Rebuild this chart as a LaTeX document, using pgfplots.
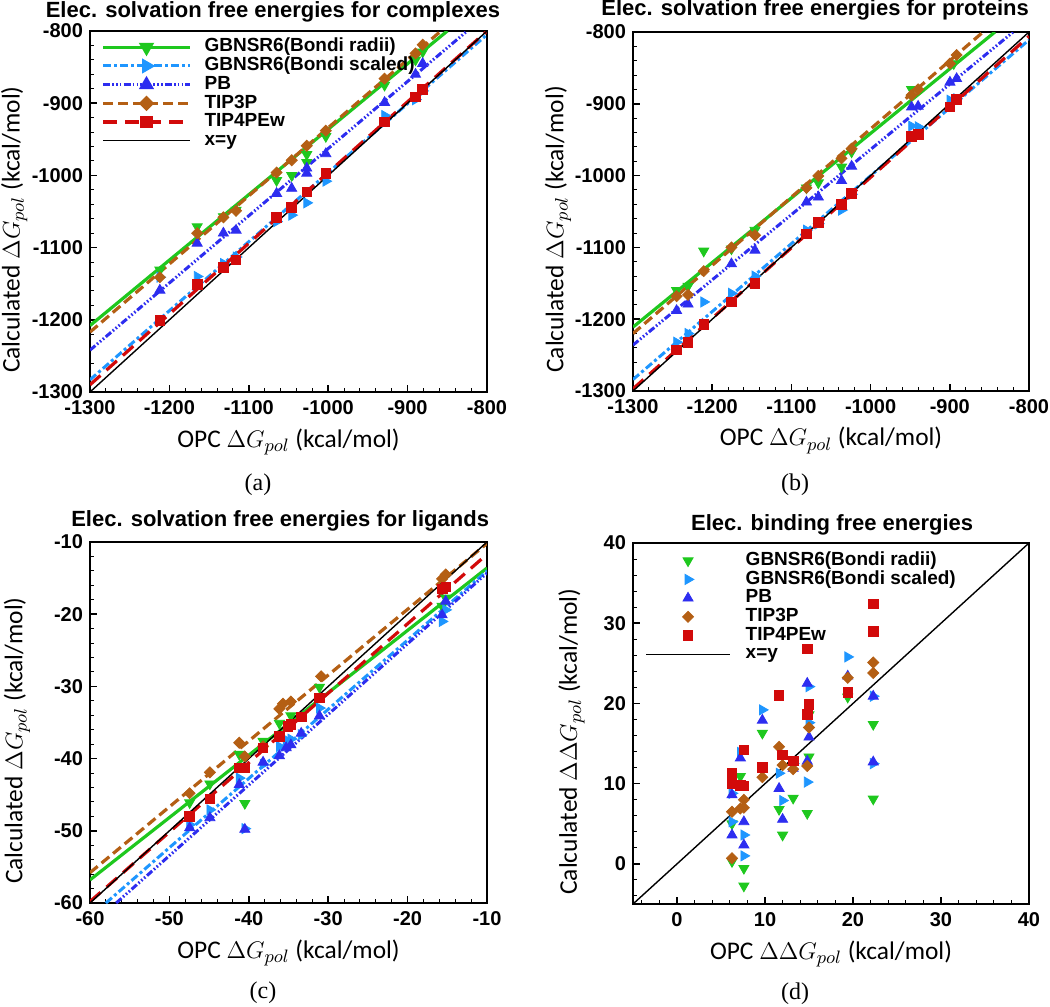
\documentclass[border=0pt]{standalone}
\usepackage{pgfplots}
\pgfplotsset{compat=1.18}
\usepackage{fontspec}
\setmainfont{Liberation Sans}
\newfontfamily\carlito{Carlito}
\newfontfamily\timesf{Liberation Serif}
\definecolor{cgr}{RGB}{30,200,30}
\definecolor{clb}{RGB}{30,150,255}
\definecolor{cpb}{RGB}{45,45,240}
\definecolor{cbr}{RGB}{180,95,20}
\definecolor{crd}{RGB}{210,10,10}
\pgfplotsset{
  every axis title/.style={at={(0.5,1)}, anchor=south, font=\bfseries\fontsize{11}{13}\selectfont, inner sep=1.5pt},
  panel/.style={scale only axis, axis line style={line width=1pt},
    tick align=inside, xtick pos=left, ytick pos=left, minor tick num=4,
    major tick length=3.5pt, minor tick length=1.8pt,
    every tick/.style={black, line width=0.8pt},
    every minor tick/.style={black, line width=0.5pt},
    ticklabel style={font=\bfseries\fontsize{10}{12}\selectfont},
    xticklabel style={yshift=-0.8pt},
    /pgf/number format/assume math mode=true, /pgf/number format/1000 sep={},
    label style={font=\carlito\fontsize{12.7}{15}\selectfont, inner sep=0pt},
    legend cell align=left},
  lGR/.style={cgr, line width=1.6pt},
  lLB/.style={clb, line width=1.5pt, dash pattern=on 4pt off 1.5pt on 1.5pt off 1.5pt},
  lPB/.style={cpb, line width=1.5pt, dash pattern=on 3.5pt off 1.1pt on 0.8pt off 1.1pt on 0.8pt off 1.1pt on 0.8pt off 1.1pt},
  lBR/.style={cbr, line width=1.6pt, dash pattern=on 5pt off 2.5pt},
  lRD/.style={crd, line width=1.6pt, dash pattern=on 7pt off 4pt},
  lXY/.style={black, line width=0.7pt},
  mGR/.style={cgr, mark=triangle*, mark size=2.9pt, mark options={rotate=180, solid, fill=cgr}},
  mLB/.style={clb, mark=triangle*, mark size=2.9pt, mark options={rotate=-90, solid, fill=clb}},
  mPB/.style={cpb, mark=triangle*, mark size=2.9pt, mark options={solid, fill=cpb}},
  mBR/.style={cbr, mark=square*, mark size=1.95pt, mark options={rotate=45, solid, fill=cbr}},
  mRD/.style={crd, mark=square*, mark size=2.4pt, mark options={solid, fill=crd}},
}
\begin{document}
\begin{tikzpicture}
\path[use as bounding box] (0,0) rectangle (525pt,-503.5pt);
% ---------------- (a)
\begin{axis}[panel, at={(45pt,-196pt)}, anchor=south west, width=198.5pt, height=180.5pt,
  xmin=-1300, xmax=-800, ymin=-1300, ymax=-800,
  xtick={-1300,-1200,...,-800}, ytick={-1300,-1200,...,-800},
  title={Elec. solvation free energies for complexes},
  title style={at={(0.461,1)}, yshift=2.7pt},
  xlabel={OPC $\Delta G_{pol}$ (kcal/mol)}, ylabel={Calculated $\Delta G_{pol}$ (kcal/mol)},
  xlabel style={at={(axis description cs:0.5,-0.1)}, anchor=north},
  ylabel style={at={(axis description cs:-0.157,0.45)}, anchor=south},
  legend style={at={(axis description cs:0.0126,0.993)}, anchor=north west, draw=none, fill=none,
    font=\bfseries\fontsize{9.5}{11}\selectfont, row sep=0pt,
    nodes={inner sep=0pt, text height=7pt, text depth=2.35pt},
    /tikz/every odd column/.append style={column sep=6.5pt}},
  legend image code/.code={\draw[mark repeat=2,mark phase=2,#1] plot coordinates {(0pt,0pt) (21.75pt,0pt) (43.5pt,0pt)};},
]
\addlegendimage{lGR, mGR}\addlegendentry{GBNSR6(Bondi radii)}
\addlegendimage{lLB, mLB}\addlegendentry{GBNSR6(Bondi scaled)}
\addlegendimage{lPB, mPB}\addlegendentry{PB}
\addlegendimage{lBR, mBR}\addlegendentry{TIP3P}
\addlegendimage{lRD, mRD}\addlegendentry{TIP4PEw}
\addlegendimage{lXY, no marks}\addlegendentry{x=y}
\addplot[lGR, no marks, forget plot] coordinates {(-1300,-1208) (-850,-800)};
\addplot[lLB, no marks, forget plot] coordinates {(-1300,-1283) (-800,-805)};
\addplot[lPB, no marks, forget plot] coordinates {(-1300,-1242) (-825,-800)};
\addplot[lBR, no marks, forget plot] coordinates {(-1300,-1217) (-858,-800)};
\addplot[lRD, no marks, forget plot] coordinates {(-1300,-1290) (-800,-800)};
\addplot[lXY, no marks, forget plot] coordinates {(-1300,-1300) (-800,-800)};
\addplot[mGR, only marks, forget plot] coordinates {(-1212,-1131) (-1165,-1071) (-1132,-1057) (-1116,-1048) (-1065,-1007) (-1046,-1000) (-1027,-971) (-1027,-982) (-1003,-946) (-929,-875) (-890,-840) (-881,-829)};
\addplot[mLB, only marks, forget plot] coordinates {(-1212,-1141) (-1165,-1140) (-1132,-1122) (-1116,-1113) (-1065,-1064) (-1046,-1055) (-1027,-1038) (-1003,-1008) (-929,-917) (-890,-895) (-881,-883)};
\addplot[mPB, only marks, forget plot] coordinates {(-1212,-1159) (-1165,-1094) (-1132,-1080) (-1116,-1076) (-1065,-1025) (-1046,-1018) (-1027,-997) (-1027,-990) (-1003,-970) (-929,-899) (-890,-860) (-881,-845)};
\addplot[mBR, only marks, forget plot] coordinates {(-1212,-1141) (-1165,-1080) (-1132,-1058) (-1116,-1049) (-1065,-996) (-1046,-979) (-1027,-959) (-1003,-938) (-929,-866) (-890,-831) (-881,-819)};
\addplot[mRD, only marks, forget plot] coordinates {(-1212,-1201) (-1165,-1151) (-1132,-1127) (-1116,-1117) (-1065,-1058) (-1046,-1044) (-1027,-1023) (-1003,-997) (-929,-926) (-890,-891) (-881,-881)};
\end{axis}
% ---------------- (b)
\begin{axis}[panel, at={(316.5pt,-195.5pt)}, anchor=south west, width=198pt, height=179.5pt,
  xmin=-1300, xmax=-800, ymin=-1300, ymax=-800,
  xtick={-1300,-1200,...,-800}, ytick={-1300,-1200,...,-800},
  title={Elec. solvation free energies for proteins},
  title style={at={(0.46,1)}, yshift=4.2pt},
  xlabel={OPC $\Delta G_{pol}$ (kcal/mol)}, ylabel={Calculated $\Delta G_{pol}$ (kcal/mol)},
  xlabel style={at={(axis description cs:0.5,-0.1)}, anchor=north},
  ylabel style={at={(axis description cs:-0.155,0.45)}, anchor=south},
]
\addplot[lGR, no marks] coordinates {(-1300,-1211) (-843,-800)};
\addplot[lLB, no marks] coordinates {(-1300,-1284) (-800,-811)};
\addplot[lPB, no marks] coordinates {(-1300,-1236) (-820,-800)};
\addplot[lBR, no marks] coordinates {(-1300,-1220) (-858,-800)};
\addplot[lRD, no marks] coordinates {(-1300,-1297) (-800,-806)};
\addplot[lXY, no marks] coordinates {(-1300,-1300) (-800,-800)};
\addplot[mGR, only marks] coordinates {(-1245,-1160) (-1230.5,-1154) (-1210.7,-1105) (-1175.7,-1102) (-1146,-1076) (-1081,-1017) (-1066,-1010) (-1036.7,-988) (-1024,-967) (-948.3,-880) (-895,-844)};
\addplot[mLB, only marks] coordinates {(-1245,-1232) (-1230.5,-1220) (-1210.7,-1176) (-1175.7,-1164) (-1146,-1140) (-1081,-1076) (-1066,-1067) (-1036.7,-1048) (-1024,-1026) (-948.3,-931) (-940,-932) (-899.8,-895) (-891.4,-893)};
\addplot[mPB, only marks] coordinates {(-1245,-1188) (-1230.5,-1179) (-1175.7,-1123) (-1146,-1104) (-1081,-1037) (-1066,-1030) (-1036.7,-1007) (-1024,-987) (-948.3,-904.5) (-940,-903.5) (-899.8,-870) (-891.4,-865)};
\addplot[mBR, only marks] coordinates {(-1245,-1168) (-1230.5,-1166) (-1210.7,-1133) (-1175.7,-1100) (-1146,-1083) (-1081,-1017) (-1066,-1000.5) (-1036.7,-976) (-1024,-962.5) (-948.3,-888) (-940,-880) (-899.8,-844) (-891.4,-832)};
\addplot[mRD, only marks] coordinates {(-1245,-1243) (-1230.5,-1232) (-1210.7,-1207) (-1175.7,-1176) (-1146,-1150) (-1081,-1081) (-1066,-1065) (-1036.7,-1040) (-1024,-1025) (-948.3,-945) (-940,-942.5) (-899.8,-904.5) (-891.4,-894)};
\end{axis}
% ---------------- (c)
\begin{axis}[panel, at={(45pt,-451.5pt)}, anchor=south west, width=198.5pt, height=180.5pt,
  xmin=-60, xmax=-10, ymin=-60, ymax=-10,
  xtick={-60,-50,...,-10}, ytick={-60,-50,...,-10},
  title={Elec. solvation free energies for ligands},
  title style={at={(0.479,1)}, yshift=3.7pt},
  xlabel={OPC $\Delta G_{pol}$ (kcal/mol)}, ylabel={Calculated $\Delta G_{pol}$ (kcal/mol)},
  xlabel style={at={(axis description cs:0.5,-0.1)}, anchor=north},
  ylabel style={at={(axis description cs:-0.15,0.45)}, anchor=south},
]
\addplot[lGR, no marks] coordinates {(-60,-56.8) (-10,-13.6)};
\addplot[lLB, no marks] coordinates {(-58,-60) (-10,-14.0)};
\addplot[lPB, no marks] coordinates {(-56.7,-60) (-10,-14.3)};
\addplot[lBR, no marks] coordinates {(-60,-55.8) (-10,-10.2)};
\addplot[lRD, no marks] coordinates {(-60,-59.8) (-10,-11.7)};
\addplot[lXY, no marks] coordinates {(-60,-60) (-10,-10)};
\addplot[mGR, only marks] coordinates {(-47.45,-46.1) (-44.9,-43.5) (-41.2,-39.4) (-40.5,-46.2) (-38.2,-37.6) (-36.15,-35.1) (-34.7,-34.05) (-31.1,-30.1) (-15.65,-18.9) (-15.2,-17.75)};
\addplot[mLB, only marks] coordinates {(-47.45,-49.15) (-44.9,-47.1) (-41.2,-42.7) (-40.5,-49.7) (-38.2,-40.8) (-36.15,-38.3) (-35.3,-37.4) (-34.7,-37.3) (-33.4,-36.7) (-31.1,-33) (-15.65,-21) (-15.2,-19.4)};
\addplot[mPB, only marks] coordinates {(-47.45,-49.6) (-44.9,-48.2) (-41.2,-43.6) (-40.5,-49.8) (-38.2,-40.5) (-36.15,-39.6) (-35.3,-38.5) (-34.7,-38.1) (-33.4,-36.5) (-31.1,-34.1) (-15.65,-20.1) (-15.2,-18.2)};
\addplot[mBR, only marks] coordinates {(-47.45,-44.8) (-44.9,-41.9) (-41.2,-37.8) (-40.5,-39.7) (-38.2,-38.3) (-36.15,-33.1) (-35.7,-32.4) (-34.7,-32.1) (-30.9,-28.6) (-15.65,-15.1) (-15.2,-14.5)};
\addplot[mRD, only marks] coordinates {(-47.45,-48) (-44.9,-45.6) (-41.2,-41.3) (-40.5,-41.3) (-38.2,-38.5) (-36.15,-36.9) (-35.1,-35.5) (-34.7,-35.3) (-33.4,-34.2) (-31.1,-31.6) (-15.65,-16.5) (-15.2,-16.2)};
\end{axis}
% ---------------- (d)
\begin{axis}[panel, at={(316.5pt,-452pt)}, anchor=south west, width=198pt, height=180.5pt,
  xmin=-5, xmax=40, ymin=-5, ymax=40,
  xtick={0,10,...,40}, ytick={0,10,...,40},
  minor xtick={-4,-2,...,38}, minor ytick={-4,-2,...,38},
  title={Elec. binding free energies},
  title style={at={(0.503,1)}, yshift=2.2pt},
  xlabel={OPC $\Delta\Delta G_{pol}$ (kcal/mol)}, ylabel={Calculated $\Delta\Delta G_{pol}$ (kcal/mol)},
  xlabel style={at={(axis description cs:0.5,-0.1)}, anchor=north},
  ylabel style={at={(axis description cs:-0.121,0.45)}, anchor=south},
  legend style={at={(axis description cs:0.015,0.989)}, anchor=north west, draw=none, fill=none,
    font=\bfseries\fontsize{9.5}{11}\selectfont, row sep=0pt,
    nodes={inner sep=0pt, text height=7pt, text depth=2.35pt},
    /tikz/every odd column/.append style={column sep=7.5pt}},
  legend image code/.code={\draw[mark repeat=2,mark phase=2,#1] plot coordinates {(0pt,0pt) (21pt,0pt) (42pt,0pt)};},
]
\addlegendimage{only marks, mGR}\addlegendentry{GBNSR6(Bondi radii)}
\addlegendimage{only marks, mLB}\addlegendentry{GBNSR6(Bondi scaled)}
\addlegendimage{only marks, mPB}\addlegendentry{PB}
\addlegendimage{only marks, mBR}\addlegendentry{TIP3P}
\addlegendimage{only marks, mRD}\addlegendentry{TIP4PEw}
\addlegendimage{lXY, no marks}\addlegendentry{x=y}
\addplot[lXY, no marks, forget plot] coordinates {(-5,-5) (40,40)};
\addplot[mGR, only marks, forget plot] coordinates {(6.25,0.3) (6.25,5.0) (7.2,10.9) (7.6,-0.55) (7.6,-2.75) (9.7,16.3) (11.6,6.8) (12.0,3.6) (13.2,8.2) (14.8,6.3) (15.0,13.35) (15.0,18.6) (19.4,20.8) (22.3,17.4) (22.3,8.1)};
\addplot[mLB, only marks, forget plot] coordinates {(6.25,5.25) (6.25,8.8) (7.2,13.9) (7.6,3.6) (7.6,1.0) (9.7,19.2) (11.6,11.3) (12.0,7.9) (13.2,12.5) (14.8,10.2) (15.0,22.1) (15.0,17.6) (19.4,25.8) (22.3,20.9) (22.3,12.5)};
\addplot[mPB, only marks, forget plot] coordinates {(6.25,3.6) (6.25,8.6) (7.2,13.2) (7.6,5.25) (7.6,2.35) (9.7,17.9) (11.6,9.4) (12.0,5.55) (13.2,11.9) (14.8,22.5) (14.8,12.8) (15.0,15.8) (19.4,23.4) (22.3,20.9) (22.3,12.7)};
\addplot[mBR, only marks, forget plot] coordinates {(6.25,0.7) (6.25,6.5) (7.2,6.9) (7.6,7.0) (7.6,8.0) (9.7,10.8) (11.6,14.6) (12.0,12.3) (13.2,11.8) (14.8,12.2) (15.0,17.0) (19.4,23.2) (22.3,25.1) (22.3,23.8)};
\addplot[mRD, only marks, forget plot] coordinates {(6.25,11.27) (6.25,10.0) (7.2,9.8) (7.6,9.7) (7.6,14.2) (9.7,12.0) (11.6,21.0) (12.0,13.6) (13.2,12.85) (14.8,26.8) (14.8,18.6) (15.0,19.9) (19.4,21.4) (22.3,32.4) (22.3,29.0)};
\end{axis}
% captions
\node[font=\timesf\fontsize{12}{14}\selectfont] at (129pt,-242.5pt) {(a)};
\node[font=\timesf\fontsize{12}{14}\selectfont] at (397.5pt,-242.5pt) {(b)};
\node[font=\timesf\fontsize{12}{14}\selectfont] at (131.5pt,-496.5pt) {(c)};
\node[font=\timesf\fontsize{12}{14}\selectfont] at (397.5pt,-497pt) {(d)};
\end{tikzpicture}
\end{document}
